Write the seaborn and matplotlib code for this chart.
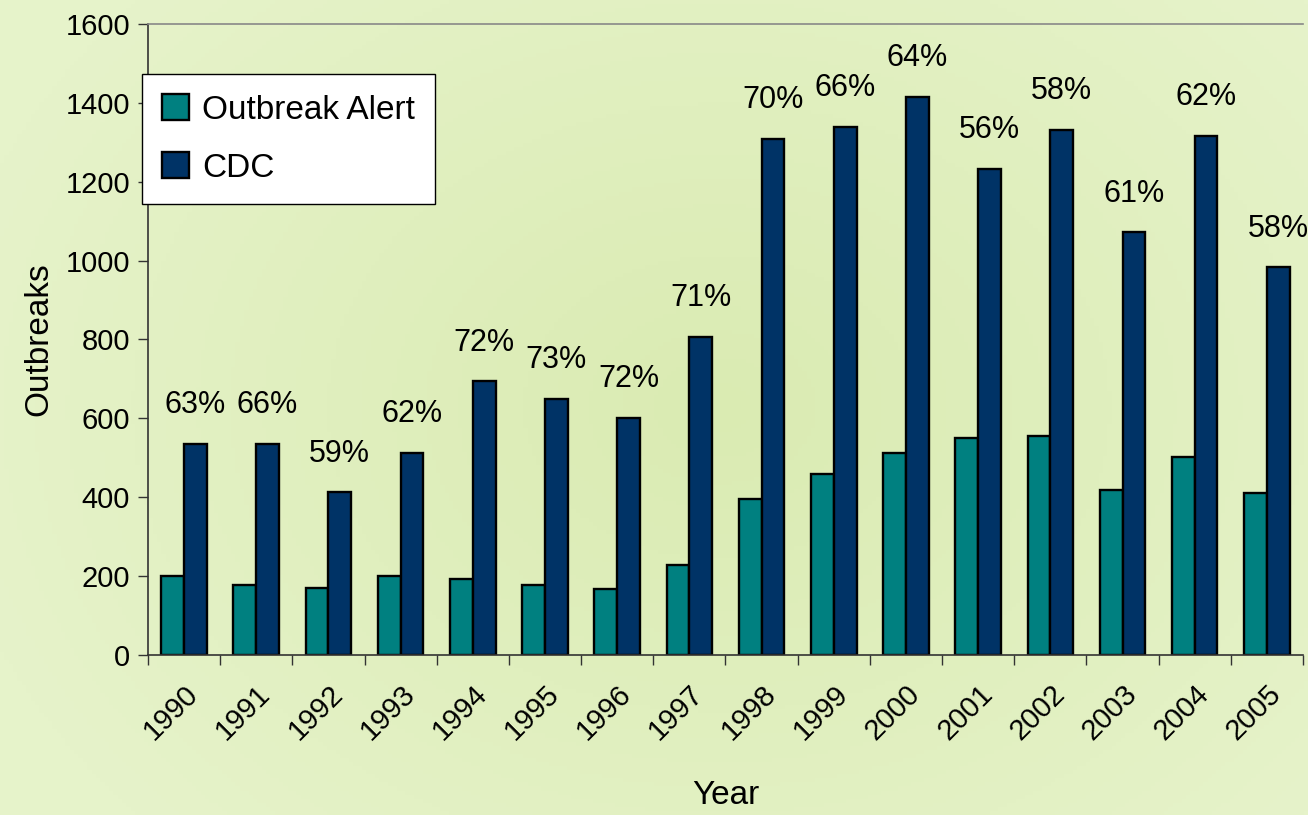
import numpy as np
import pandas as pd
import seaborn as sns
import matplotlib.pyplot as plt

years = ["1990", "1991", "1992", "1993", "1994", "1995", "1996", "1997",
         "1998", "1999", "2000", "2001", "2002", "2003", "2004", "2005"]
outbreak_alert = [200, 178, 170, 200, 192, 178, 168, 228,
                  396, 458, 511, 549, 556, 419, 502, 412]
cdc = [535, 535, 413, 512, 694, 649, 602, 807,
       1309, 1339, 1415, 1233, 1332, 1072, 1317, 983]
percents = ["63%", "66%", "59%", "62%", "72%", "73%", "72%", "71%",
            "70%", "66%", "64%", "56%", "58%", "61%", "62%", "58%"]

df = pd.DataFrame({
    "Year": years * 2,
    "Outbreaks": outbreak_alert + cdc,
    "Source": ["Outbreak Alert"] * len(years) + ["CDC"] * len(years),
})

sns.set_style("white")
plt.rcParams['font.family'] = ['Liberation Sans', 'DejaVu Sans']
plt.rcParams['text.color'] = 'black'
plt.rcParams['axes.labelcolor'] = 'black'
plt.rcParams['xtick.color'] = 'black'
plt.rcParams['ytick.color'] = 'black'

fig = plt.figure(figsize=(13.08, 8.15), dpi=100)

# light green gradient background
bg = fig.add_axes([0, 0, 1, 1], zorder=-10)
yy, xx = np.mgrid[0:1:200j, 0:1:300j]
r = np.sqrt((xx - 0.55) ** 2 + ((yy - 0.5) * 0.8) ** 2)
c1 = np.array([218, 235, 178]) / 255
c2 = np.array([230, 243, 202]) / 255
t = np.clip(r / 0.6, 0, 1)[..., None]
bg.imshow(c1 * (1 - t) + c2 * t, extent=[0, 1, 0, 1], aspect='auto')
bg.axis('off')

ax = fig.add_axes([0.1131, 0.1963, 0.8831, 0.7743])
ax.set_facecolor('none')

sns.barplot(data=df, x="Year", y="Outbreaks", hue="Source",
            palette=["#008080", "#003366"], saturation=1, width=0.63,
            edgecolor="black", linewidth=1.7, ax=ax)

ax.bar_label(ax.containers[1], labels=percents, padding=17, fontsize=22)

ax.set_ylim(0, 1600)
ax.set_yticks(range(0, 1601, 200))
ax.set_xlim(-0.5, len(years) - 0.5)

# ticks at group boundaries, labels at group centres
ax.set_xticks(np.arange(-0.5, len(years)), minor=False)
ax.set_xticklabels([])
ax.set_xticks(np.arange(len(years)), minor=True)
ax.set_xticklabels(years, minor=True, rotation=45, ha='right',
                   rotation_mode='anchor', fontsize=21)
ax.tick_params(axis='x', which='minor', length=0, pad=18)
ax.tick_params(axis='x', which='major', length=7, width=1, color='#333333',
               direction='out', bottom=True)
ax.tick_params(axis='y', labelsize=21, length=7, width=1, color='#333333',
               direction='out', left=True, pad=6)

for side in ['left', 'bottom']:
    ax.spines[side].set_color('#333333')
    ax.spines[side].set_linewidth(1.2)
ax.spines['top'].set_color('#888888')
ax.spines['top'].set_linewidth(1.2)
ax.spines['right'].set_visible(False)

ax.set_xlabel("Year", fontsize=24, labelpad=25)
ax.set_ylabel("Outbreaks", fontsize=24, labelpad=8)

leg = ax.legend(loc='upper left', bbox_to_anchor=(-0.005, 0.92),
                fontsize=24, frameon=True, fancybox=False,
                edgecolor='black', framealpha=1, borderpad=0.6,
                handlelength=0.8, handleheight=0.8, handletextpad=0.4,
                labelspacing=0.8, borderaxespad=0)
leg.get_frame().set_linewidth(1.0)

fig.savefig("out.png", dpi=100)
